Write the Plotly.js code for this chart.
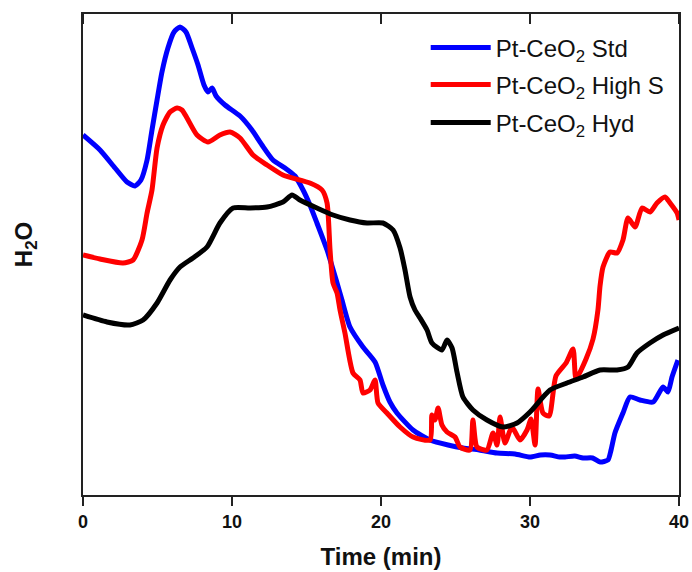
<!DOCTYPE html>
<html>
<head>
<meta charset="utf-8">
<script src="https://cdn.plot.ly/plotly-3.0.1.min.js"></script>
<style>html,body{margin:0;padding:0;background:#fff;}#chart{width:692px;height:572px;}</style>
</head>
<body>
<div id="chart"></div>
<script>
// Time (min) and H2O signal (arbitrary units)
var stdTime = [0,1.14,2.15,2.95,3.49,3.89,4.30,4.63,4.97,5.30,5.70,6.11,6.51,6.91,7.32,7.72,8.12,8.39,8.66,8.93,9.53,10.54,11.34,12.01,12.75,13.56,14.23,14.77,15.23,15.70,16.38,17.05,17.38,17.92,18.79,19.60,20.13,20.60,21.07,22.15,23.29,24.5,25.50,26.6,27.79,29.0,30.00,30.7,31.34,32.0,32.35,33.0,33.56,34.2,34.70,35.23,35.44,35.70,36.24,36.71,37.38,38.26,38.93,39.26,39.53,39.93];
var stdH2O  = [360,345,327,313,309,315,335,365,395,423,447,463,468,463,447,430,410,403,407,399,390,379,365,350,335,327,319,305,290,272,245,212,195,168,148,133,110,93,82,65,55,50,47,45,42,41,38,40,40,38,38,39,37,37,33,35,45,62,82,98,95,93,108,103,118,135];

var hisTime = [0,1.14,2.68,3.36,3.96,4.30,4.63,4.97,5.37,5.84,6.31,6.64,6.98,7.65,8.39,9.19,9.87,10.54,11.41,12.35,13.42,15.23,16.04,16.38,16.58,16.78,17.05,17.25,17.58,18.12,18.59,18.79,19.26,19.60,19.80,20.40,21.28,22.15,23.29,23.42,23.62,23.83,24.09,24.43,24.97,25.30,25.97,26.17,26.44,27.11,27.52,27.79,27.99,28.32,28.79,29.33,29.80,30.07,30.34,30.54,30.87,31.28,31.74,32.42,32.89,33.09,33.76,34.23,34.56,34.70,34.90,35.37,35.84,36.24,36.58,37.05,37.52,38.05,38.52,39.06,39.40,39.87,40.00];
var hisH2O  = [240,236,232,235,255,282,305,347,370,383,387,385,377,360,353,360,363,357,340,330,320,312,305,292,245,212,202,185,162,122,115,102,105,115,92,82,68,58,55,80,75,87,70,63,58,48,45,75,48,45,62,50,78,52,68,55,65,76,50,106,82,79,119,132,146,116,136,156,185,209,228,243,242,255,277,268,287,283,292,298,292,282,275];

var hydTime = [0,1.61,3.15,4.03,4.97,5.84,6.51,7.38,8.32,9.19,10.07,11.21,12.35,13.42,14.03,14.56,15.70,16.78,17.92,19.06,20.13,20.81,21.28,21.61,21.95,22.28,22.62,23.09,23.42,24.09,24.43,24.77,25.10,25.50,26.17,27.11,28.19,29.13,30.00,31.34,32.48,33.56,34.70,35.84,36.58,37.18,38.05,38.93,40.00];
var hydH2O  = [180,173,170,175,192,215,228,237,248,272,287,287,288,293,300,295,287,280,275,272,272,265,247,225,198,185,177,165,152,145,155,147,123,98,85,75,68,72,83,105,112,118,125,125,128,142,152,160,167];

var seriesNames = ['Pt-CeO<sub>2</sub> Std', 'Pt-CeO<sub>2</sub> High S', 'Pt-CeO<sub>2</sub> Hyd'];
var xTicks = [0,10,20,30,40];

var lineShape = {shape:'spline', smoothing:0.6, width:5};
function ln(c){ return Object.assign({color:c}, lineShape); }

var traces = [
  {x: stdTime, y: stdH2O, name: seriesNames[0], mode:'lines', line:ln('#0000ff'), legend:'legend'},
  {x: hisTime, y: hisH2O, name: seriesNames[1], mode:'lines', line:ln('#ff0000'), legend:'legend2'},
  {x: hydTime, y: hydH2O, name: seriesNames[2], mode:'lines', line:ln('#000000'), legend:'legend3'}
];

// inward-pointing ticks on the top frame, placed at the same tick values through the x scale
var plotH = 572 - 14 - 77;
var topTicks = xTicks.map(function(v){
  return {type:'line', xref:'x', yref:'paper', x0:v, x1:v, y0:1, y1:1 - 10/plotH,
          line:{color:'#222', width:2}, layer:'above'};
});

var legFont = {family:'Liberation Sans, Arial, sans-serif', size:24, color:'#111'};
function leg(yp){ return {x:0.575, y:yp, xanchor:'left', yanchor:'middle', font:legFont, bgcolor:'rgba(0,0,0,0)', itemwidth:60, borderwidth:0}; }

var layout = {
  width:692, height:572,
  margin:{l:83, r:13, t:14, b:77},
  paper_bgcolor:'#fff', plot_bgcolor:'#fff',
  showlegend:true,
  legend: leg((495-48)/481),
  legend2: leg((495-85)/481),
  legend3: leg((495-123)/481),
  shapes: topTicks,
  xaxis:{
    range:[0,40], tickvals:xTicks, ticktext:xTicks.map(String),
    showline:true, linecolor:'#222', linewidth:2, mirror:true,
    ticks:'outside', ticklen:9, tickwidth:2, tickcolor:'#222',
    showgrid:false, zeroline:false,
    tickfont:{family:'Liberation Sans, Arial, sans-serif', size:18, color:'#111', weight:'bold'},
    title:{text:'<b>Time (min)</b>', font:{family:'Liberation Sans, Arial, sans-serif', size:24, color:'#111'}, standoff:18}
  },
  yaxis:{
    range:[0,481], showline:true, linecolor:'#222', linewidth:2, mirror:true,
    ticks:'', showticklabels:false, showgrid:false, zeroline:false,
    title:{text:'<b>&nbsp;&nbsp;&nbsp;H<sub>2</sub>O</b>', font:{family:'Liberation Sans, Arial, sans-serif', size:24, color:'#111'}, standoff:42}
  }
};

Plotly.newPlot('chart', traces, layout, {displayModeBar:false, staticPlot:true});
</script>
</body>
</html>
